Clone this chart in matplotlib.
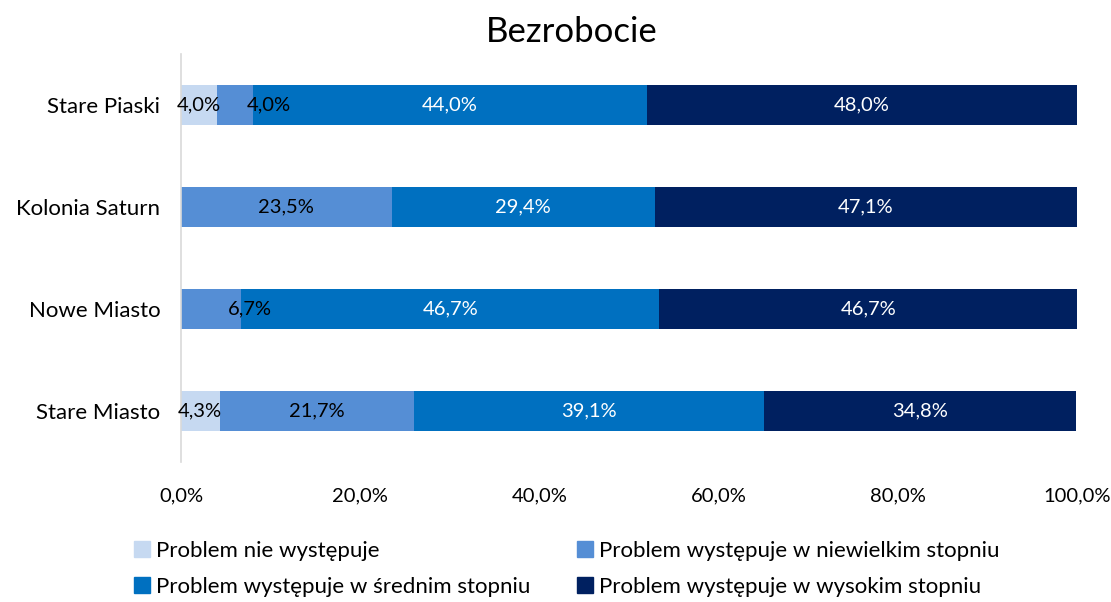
import numpy as np
import matplotlib
matplotlib.use("Agg")
import matplotlib.pyplot as plt
from matplotlib.patches import Patch

plt.rcParams['font.family'] = ['Lato', 'DejaVu Sans']

# dane: udział odpowiedzi w każdej dzielnicy (%)
districts = ["Stare Piaski", "Kolonia Saturn", "Nowe Miasto", "Stare Miasto"]
series_names = ["Problem nie występuje",
                "Problem występuje w niewielkim stopniu",
                "Problem występuje w średnim stopniu",
                "Problem występuje w wysokim stopniu"]
nie_wystepuje = [4.0, 0.0, 0.0, 4.3]
niewielki = [4.0, 23.5, 6.7, 21.7]
sredni = [44.0, 29.4, 46.7, 39.1]
wysoki = [48.0, 47.1, 46.7, 34.8]
tick_vals = [0, 20, 40, 60, 80, 100]

colors = ['#c6d9f1', '#558ed5', '#0070c0', '#002060']
text_colors = ['black', 'black', 'white', 'white']

# przesunięcia etykiet dla wąskich segmentów (w punktach procentowych)
nudge = {(0, 1): 3.8, (2, 1): 4.3}

fig = plt.figure(figsize=(11.11, 6.02), dpi=100)
ax = fig.add_axes([181/1111, 1 - 462/602, 896/1111, 408/602])

data = np.array([nie_wystepuje, niewielki, sredni, wysoki])
y = np.arange(len(districts))
left = np.zeros(len(districts))
for s in range(4):
    ax.barh(y, data[s], left=left, height=0.4, color=colors[s], label=series_names[s])
    for i in range(len(districts)):
        v = data[s][i]
        if v > 0:
            xc = left[i] + v / 2 + nudge.get((i, s), 0)
            ax.text(xc, y[i], ('%.1f%%' % v).replace('.', ','), ha='center', va='center',
                    color=text_colors[s], fontsize=14.5)
    left += data[s]

ax.set_xlim(0, 100)
ax.set_ylim(3.5, -0.5)
ax.set_yticks(y)
ax.set_yticklabels(districts, fontsize=16)
ax.set_xticks(tick_vals)
ax.set_xticklabels([('%.1f%%' % t).replace('.', ',') for t in tick_vals], fontsize=14.5)
ax.tick_params(axis='both', length=0)
ax.tick_params(axis='x', pad=18)
ax.tick_params(axis='y', pad=15)
for sp in ['top', 'right', 'bottom']:
    ax.spines[sp].set_visible(False)
ax.spines['left'].set_color('#d9d9d9')
ax.spines['left'].set_linewidth(1.2)

fig.text(0.515, 1 - 32/602, "Bezrobocie", ha='center', va='center', fontsize=25)

handles = [Patch(color=c) for c in colors]
order = [0, 2, 1, 3]
fig.legend([handles[k] for k in order], [series_names[k] for k in order],
           ncol=2, loc='upper left', bbox_to_anchor=(114/1111, 1 - 521/602),
           frameon=False, fontsize=16, handlelength=0.7, handleheight=0.7,
           handletextpad=0.3, columnspacing=2.1, labelspacing=0.7)

fig.savefig("out.png", dpi=100)
